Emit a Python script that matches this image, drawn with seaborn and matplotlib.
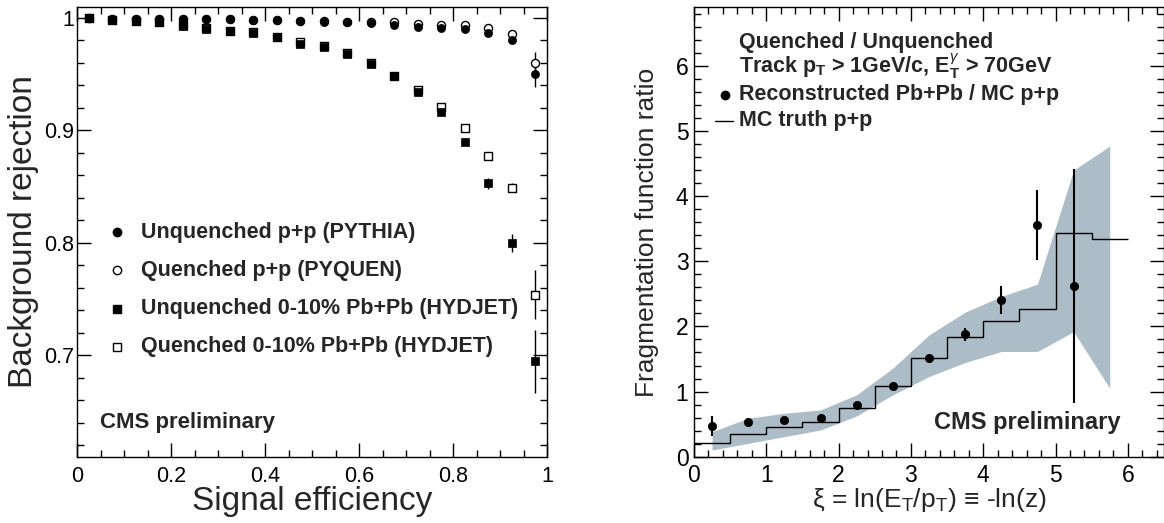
import numpy as np
import pandas as pd
import matplotlib
matplotlib.use("Agg")
import matplotlib.pyplot as plt
from matplotlib.ticker import MultipleLocator, FuncFormatter
import seaborn as sns

sns.set_theme(style="ticks")
plt.rcParams["font.family"] = ["Liberation Sans", "DejaVu Sans"]
plt.rcParams["mathtext.fontset"] = "custom"
plt.rcParams["mathtext.rm"] = "Liberation Sans"
plt.rcParams["mathtext.it"] = "Liberation Sans:italic"
plt.rcParams["mathtext.bf"] = "Liberation Sans:bold"

# === left panel: background rejection vs signal efficiency ===
eff = [0.025, 0.075, 0.125, 0.175, 0.225, 0.275, 0.325, 0.375, 0.425, 0.475,
       0.525, 0.575, 0.625, 0.675, 0.725, 0.775, 0.825, 0.875, 0.925, 0.975]
unq_pp = [1.000, 0.999, 0.999, 0.999, 0.999, 0.999, 0.9988, 0.998, 0.998, 0.997,
          0.996, 0.996, 0.9955, 0.994, 0.992, 0.991, 0.990, 0.987, 0.980, 0.950]
q_pp = [1.000, 0.999, 0.999, 0.999, 0.999, 0.999, 0.9988, 0.998, 0.998, 0.9975,
        0.997, 0.9965, 0.9965, 0.996, 0.995, 0.994, 0.9935, 0.991, 0.986, 0.960]
unq_pbpb = [1.000, 0.998, 0.997, 0.996, 0.993, 0.990, 0.988, 0.987, 0.983, 0.977,
            0.974, 0.968, 0.959, 0.948, 0.934, 0.916, 0.890, 0.853, 0.800, 0.695]
q_pbpb = [1.000, 0.9985, 0.9975, 0.9965, 0.9935, 0.991, 0.9885, 0.9875, 0.9835, 0.979,
          0.975, 0.9685, 0.960, 0.9485, 0.936, 0.921, 0.902, 0.877, 0.849, 0.754]
unq_pp_err = [0, 0, 0, 0, 0, 0, 0, 0, 0, 0, 0, 0, 0, 0, 0, 0, 0.001, 0.001, 0.002, 0.011]
q_pp_err = [0, 0, 0, 0, 0, 0, 0, 0, 0, 0, 0, 0, 0, 0, 0, 0, 0.001, 0.001, 0.002, 0.010]
unq_pbpb_err = [0, 0, 0, 0, 0, 0, 0, 0, 0, 0, 0, 0, 0, 0, 0, 0.002, 0.003, 0.005, 0.008, 0.028]
q_pbpb_err = [0, 0, 0, 0, 0, 0, 0, 0, 0, 0, 0, 0, 0, 0, 0, 0.002, 0.002, 0.003, 0.004, 0.022]
left_labels = ["Unquenched p+p (PYTHIA)", "Quenched p+p (PYQUEN)",
               "Unquenched 0-10% Pb+Pb (HYDJET)", "Quenched 0-10% Pb+Pb (HYDJET)"]

# === right panel: fragmentation function ratio ===
xi = [0.25, 0.75, 1.25, 1.75, 2.25, 2.75, 3.25, 3.75, 4.25, 4.75, 5.25]
ratio = [0.47, 0.53, 0.565, 0.60, 0.795, 1.083, 1.518, 1.877, 2.41, 3.554, 2.62]
ratio_err = [0.155, 0.065, 0.03, 0.03, 0.04, 0.04, 0.04, 0.10, 0.215, 0.54, 1.8]
bin_edges = [0, 0.5, 1.0, 1.5, 2.0, 2.5, 3.0, 3.5, 4.0, 4.5, 5.0, 5.5, 6.0]
truth = [0.215, 0.354, 0.452, 0.534, 0.749, 1.088, 1.508, 1.837, 2.083, 2.272, 3.437, 3.344]
band_x = [0.25, 0.75, 1.25, 1.75, 2.25, 2.75, 3.25, 3.75, 4.25, 4.75, 5.25, 5.75]
band_hi = [0.385, 0.59, 0.667, 0.718, 0.95, 1.36, 1.87, 2.22, 2.46, 2.65, 4.40, 4.77]
band_lo = [0.103, 0.205, 0.308, 0.41, 0.626, 0.95, 1.23, 1.446, 1.615, 1.615, 1.92, 1.05]

fmt = FuncFormatter(lambda v, p: "%g" % round(v, 3))


def root_style(ax, size):
    for s in ax.spines.values():
        s.set_linewidth(1.0)
        s.set_color("black")
    ax.tick_params(which="both", direction="in", top=True, right=True,
                   color="black", width=1.0, labelsize=size, labelcolor="black")
    ax.tick_params(which="major", length=10)
    ax.tick_params(which="minor", length=5)
    ax.xaxis.set_major_formatter(fmt)
    ax.yaxis.set_major_formatter(fmt)


fig = plt.figure(figsize=(11.64, 5.23), dpi=100)

# left
ax1 = fig.add_axes([77 / 1164, 66.3 / 523, 470 / 1164, 450 / 523])
df = pd.DataFrame({"eff": eff, "unq_pp": unq_pp, "q_pp": q_pp,
                   "unq_pbpb": unq_pbpb, "q_pbpb": q_pbpb})
for col, err in [("q_pp", q_pp_err), ("unq_pp", unq_pp_err),
                 ("q_pbpb", q_pbpb_err), ("unq_pbpb", unq_pbpb_err)]:
    ax1.errorbar(df["eff"], df[col], yerr=err, fmt="none", ecolor="black",
                 elinewidth=1.0, capsize=0, zorder=2)
sns.scatterplot(data=df, x="eff", y="q_pbpb", marker="s", s=34, facecolor="white",
                edgecolor="black", linewidth=1.0, ax=ax1, zorder=3)
sns.scatterplot(data=df, x="eff", y="unq_pbpb", marker="s", s=34, color="black",
                edgecolor="black", linewidth=0.5, ax=ax1, zorder=4)
sns.scatterplot(data=df, x="eff", y="q_pp", marker="o", s=34, facecolor="white",
                edgecolor="black", linewidth=1.0, ax=ax1, zorder=3)
sns.scatterplot(data=df, x="eff", y="unq_pp", marker="o", s=34, color="black",
                edgecolor="black", linewidth=0.5, ax=ax1, zorder=4)

ax1.set_xlim(0, 1)
ax1.set_ylim(0.61, 1.01)
ax1.xaxis.set_major_locator(MultipleLocator(0.2))
ax1.xaxis.set_minor_locator(MultipleLocator(0.05))
ax1.yaxis.set_major_locator(MultipleLocator(0.1))
ax1.yaxis.set_minor_locator(MultipleLocator(0.02))
root_style(ax1, 15.5)
ax1.tick_params(axis="x", pad=7)
ax1.tick_params(axis="y", pad=2)
ax1.set_xlabel("")
ax1.set_ylabel("")
ax1.text(0.5, -0.118, "Signal efficiency", transform=ax1.transAxes,
         ha="center", va="baseline", fontsize=24)
ax1.text(-0.113, 0.5, "Background rejection", transform=ax1.transAxes,
         ha="center", va="center", rotation=90, fontsize=24)

leg_y = [0.499, 0.414, 0.329, 0.244]
leg_mk = [dict(marker="o", color="black"), dict(marker="o", mfc="white", mec="black"),
          dict(marker="s", color="black"), dict(marker="s", mfc="white", mec="black")]
for yy, lab, mk in zip(leg_y, left_labels, leg_mk):
    ax1.plot([0.085], [yy], transform=ax1.transAxes, ms=6, mew=1.0, ls="none", **mk)
    ax1.text(0.136, yy, lab, transform=ax1.transAxes, ha="left", va="center",
             fontsize=15.5, fontweight="bold")
ax1.text(0.048, 0.076, "CMS preliminary", transform=ax1.transAxes, ha="left",
         va="center", fontsize=16, fontweight="bold")

# right
ax2 = fig.add_axes([694 / 1164, 66.3 / 523, 470 / 1164, 449.4 / 523])
ax2.fill_between(band_x, band_lo, band_hi, color="#adbdc8", linewidth=0, zorder=1)
ax2.stairs(truth, bin_edges, baseline=None, color="black", linewidth=1.0, zorder=2)
rdf = pd.DataFrame({"xi": xi, "ratio": ratio, "err": ratio_err})
ax2.errorbar(rdf["xi"], rdf["ratio"], yerr=rdf["err"], fmt="none", ecolor="black",
             elinewidth=1.5, capsize=0, zorder=3)
sns.scatterplot(data=rdf, x="xi", y="ratio", marker="o", s=36, color="black",
                edgecolor="black", linewidth=0.5, ax=ax2, zorder=4)

ax2.set_xlim(0, 6.5)
ax2.set_ylim(0, 6.9)
ax2.xaxis.set_major_locator(MultipleLocator(1))
ax2.xaxis.set_minor_locator(MultipleLocator(0.2))
ax2.yaxis.set_major_locator(MultipleLocator(1))
ax2.yaxis.set_minor_locator(MultipleLocator(0.2))
root_style(ax2, 16.5)
ax2.tick_params(axis="x", pad=5.5)
ax2.tick_params(axis="y", pad=4)
ax2.set_xlabel("")
ax2.set_ylabel("")
ax2.text(0.5, -0.113, r"ξ = ln(E$_\mathrm{T}$/p$_\mathrm{T}$) ≡ -ln(z)",
         transform=ax2.transAxes, ha="center", va="baseline", fontsize=19)
ax2.text(-0.101, 0.5, "Fragmentation function ratio", transform=ax2.transAxes,
         ha="center", va="center", rotation=90, fontsize=19)

ax2.text(0.0955, 0.921, "Quenched / Unquenched", transform=ax2.transAxes,
         ha="left", va="center", fontsize=15.5, fontweight="bold")
ax2.text(0.0955, 0.868,
         r"Track p$_\mathbf{T}$ > 1GeV/c, E$_\mathbf{T}^{\gamma}$ > 70GeV",
         transform=ax2.transAxes, ha="left", va="center", fontsize=15.5,
         fontweight="bold")
ax2.plot([0.066], [0.805], transform=ax2.transAxes, marker="o", ms=6,
         color="black", ls="none")
ax2.text(0.0955, 0.805, "Reconstructed Pb+Pb / MC p+p", transform=ax2.transAxes,
         ha="left", va="center", fontsize=15.5, fontweight="bold")
ax2.plot([0.044, 0.084], [0.748, 0.748], transform=ax2.transAxes, color="black",
         linewidth=1.0)
ax2.text(0.0955, 0.748, "MC truth p+p", transform=ax2.transAxes,
         ha="left", va="center", fontsize=15.5, fontweight="bold")
ax2.text(0.511, 0.076, "CMS preliminary", transform=ax2.transAxes, ha="left",
         va="center", fontsize=17, fontweight="bold")

fig.savefig("out.png", dpi=100)
